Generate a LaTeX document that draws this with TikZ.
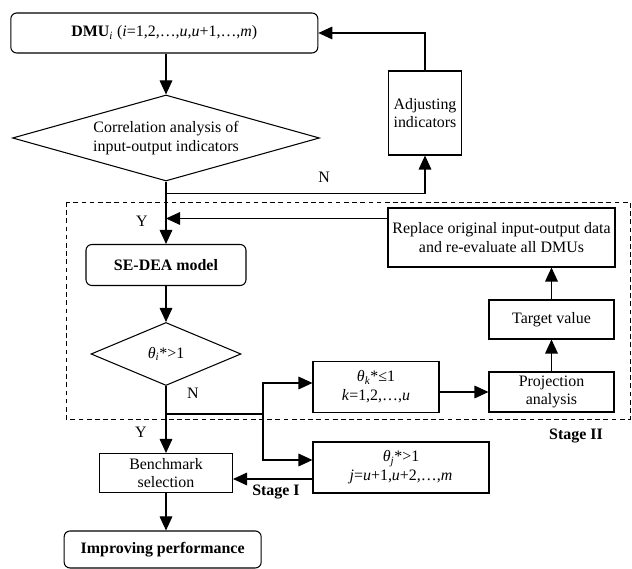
\documentclass[tikz,border=0pt]{standalone}
\usepackage{fontspec}
\setmainfont{Liberation Serif}
\usetikzlibrary{arrows.meta,shapes.geometric,calc}

\begin{document}
\begin{tikzpicture}[font=\fontsize{13.6}{16}\selectfont, >={Triangle[length=0.42cm,width=0.38cm]}, line width=.9pt]
\tikzset{box/.style={draw, align=center, inner sep=1pt}, rbox/.style={box, rounded corners=5pt}, dec/.style={diamond, draw, align=center, inner sep=0pt}, arr/.style={->}, lbl/.style={inner sep=0pt}}
\useasboundingbox (0,0) rectangle (18.96,17.07);
% main column
\node[rbox, minimum width=9.21cm, minimum height=1.2cm] (dmu) at (4.93,16.08) {\textbf{DMU}\textsubscript{\textit{i}} (\textit{i}=1,2,…,\textit{u},\textit{u}+1,…,\textit{m})};
\node[dec, minimum width=9.21cm, minimum height=2.58cm, aspect=3.57] (corr) at (4.98,12.93) {Correlation analysis of\\input-output indicators};
\node[box, minimum width=2.19cm, minimum height=2.52cm] (adj) at (12.75,13.68) {Adjusting\\indicators};
\node[rbox, minimum width=4.8cm, minimum height=1.23cm] (sedea) at (4.98,9.12) {\textbf{SE-DEA model}};
\node[dec, minimum width=4.5cm, minimum height=1.89cm, aspect=2.38] (theta) at (4.98,6.45) {\textit{θ\textsubscript{i}}*>1};
\node[box, minimum width=3.99cm, minimum height=1.17cm] (bench) at (4.98,2.88) {Benchmark\\selection};
\node[rbox, minimum width=5.91cm, minimum height=1.11cm] (improve) at (4.88,0.585) {\textbf{Improving performance}};
% right side
\node[box, minimum width=3.78cm, minimum height=1.53cm] (thk) at (11.28,5.46) {\textit{θ\textsubscript{k}}*≤1\\\textit{k}=1,2,…,\textit{u}};
\node[box, minimum width=5.28cm, minimum height=1.53cm] (thj) at (12.03,3.045) {\textit{θ\textsubscript{j}}*>1\\\textit{j}=\textit{u}+1,\textit{u}+2,…,\textit{m}};
\node[box, minimum width=3.75cm, minimum height=1.2cm] (proj) at (16.545,5.31) {Projection\\analysis};
\node[box, minimum width=3.75cm, minimum height=1.17cm] (target) at (16.545,7.485) {Target value};
\node[box, minimum width=6.81cm, minimum height=1.77cm] (replace) at (15.045,9.945) {Replace original input-output data\\and re-evaluate all DMUs};
% stage II frame
\draw[line width=.7pt, dash pattern=on 4pt off 3pt] (1.98,11.01) rectangle (18.9,4.5);
% labels
\node[lbl] (nadj) at (9.72,11.76) {N};
\node[lbl] (ysedea) at (4.26,10.44) {Y};
\node[lbl] (nthk) at (5.79,5.28) {N};
\node[lbl] (ybench) at (4.23,4.11) {Y};
\node[lbl] (stagei) at (8.28,2.31) {\textbf{Stage I}};
\node[lbl] (stageii) at (17.28,3.99) {\textbf{Stage II}};
% connectors
\coordinate (fork) at (7.89,4.65);
\coordinate (rin) at ([yshift=0.57cm]replace.west);
\coordinate (jout) at ([yshift=-0.345cm]thj.west);
\draw[arr] (corr.north |- dmu.south) -- (corr.north);
\draw[arr] (corr.south) -- ++(0,-0.36) -| (adj.south);
\draw[arr] (adj.north) |- (dmu.east);
\draw[arr] (corr.south) -- (sedea.north);
\draw[arr] (rin) -- (rin -| corr.south);
\draw[arr] (sedea.south) -- (theta.north);
\draw[arr] (theta.south) -- (bench.north);
\draw (theta.south |- fork) -- (fork);
\draw[arr] (fork) |- ([yshift=0.12cm]thk.west);
\draw[arr] (fork) |- ([yshift=0.225cm]thj.west);
\draw[arr] (jout) -- (jout -| bench.east);
\draw[arr] (thk.east |- proj.west) -- (proj.west);
\draw[arr] (proj.north) -- (target.south);
\draw[arr] (target.north) -- (target.north |- replace.south);
\draw[arr] (bench.south) -- (bench.south |- improve.north);
\end{tikzpicture}
\end{document}
